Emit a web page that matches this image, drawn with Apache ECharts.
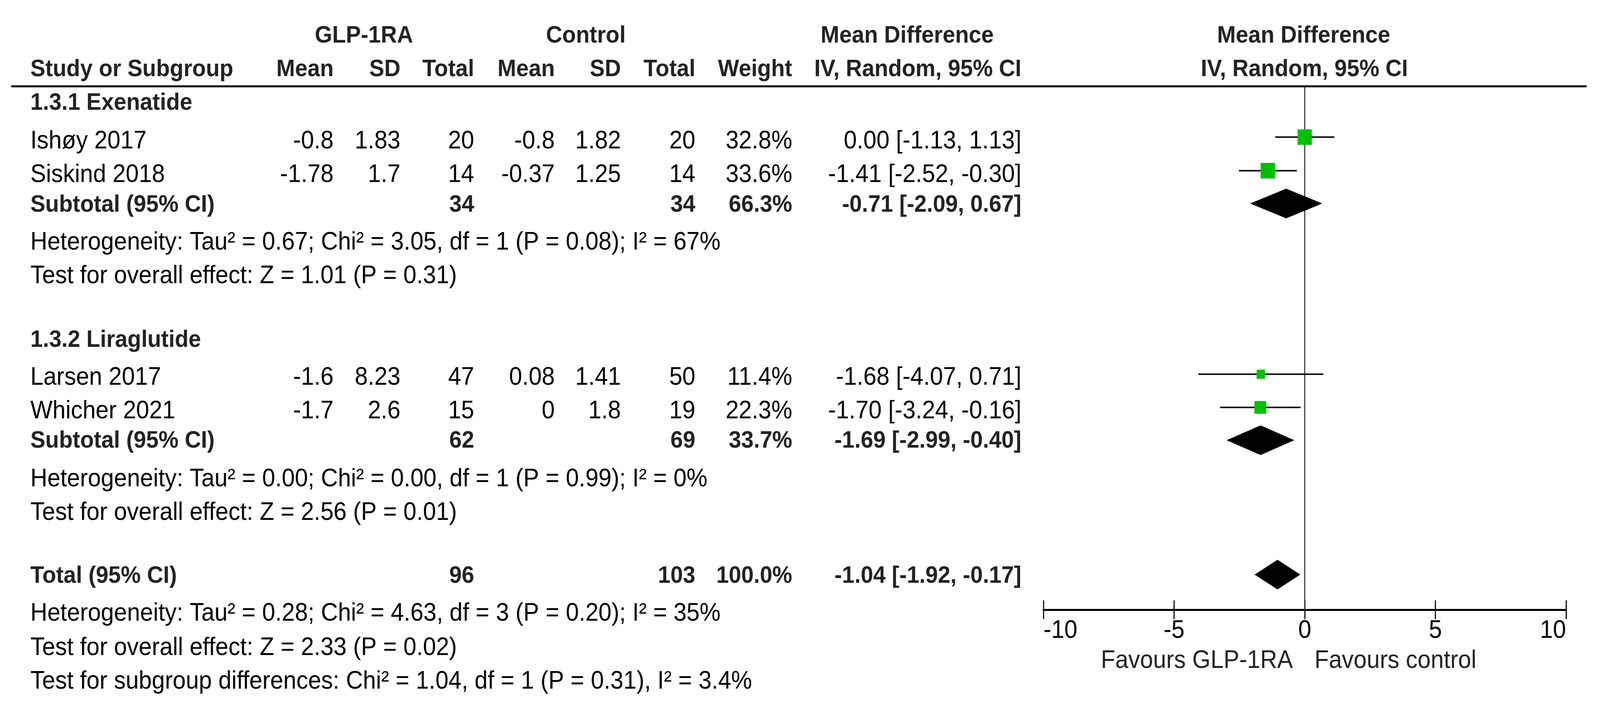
<!DOCTYPE html>
<html><head><meta charset="utf-8">
<script src="https://cdn.jsdelivr.net/npm/echarts@6.0.0/dist/echarts.min.js"></script>
<style>html,body{margin:0;padding:0;background:#fff;overflow:hidden}#c{width:4427px;height:1810px;transform-origin:0 0;position:absolute;left:0;top:0}</style>
</head><body><div id="c"></div>
<script>
// ---------- data ----------
const studies   = ['Ishøy 2017', 'Siskind 2018', 'Larsen 2017', 'Whicher 2021'];
const glpMean   = [-0.8, -1.78, -1.6, -1.7];
const glpSD     = [1.83, 1.7, 8.23, 2.6];
const glpN      = [20, 14, 47, 15];
const ctlMean   = [-0.8, -0.37, 0.08, 0];
const ctlSD     = [1.82, 1.25, 1.41, 1.8];
const ctlN      = [20, 14, 50, 19];
const weights   = [32.8, 33.6, 11.4, 22.3];
const md        = [0.00, -1.41, -1.68, -1.70];
const mdLo      = [-1.13, -2.52, -4.07, -3.24];
const mdHi      = [1.13, -0.30, 0.71, -0.16];

const subgroupNames = ['1.3.1 Exenatide', '1.3.2 Liraglutide'];
const subGlpN   = [34, 62];
const subCtlN   = [34, 69];
const subWeight = [66.3, 33.7];
const subMd     = [-0.71, -1.69];
const subLo     = [-2.09, -2.99];
const subHi     = [0.67, -0.40];
const subHet    = ['Heterogeneity: Tau² = 0.67; Chi² = 3.05, df = 1 (P = 0.08); I² = 67%',
                   'Heterogeneity: Tau² = 0.00; Chi² = 0.00, df = 1 (P = 0.99); I² = 0%'];
const subEffect = ['Test for overall effect: Z = 1.01 (P = 0.31)',
                   'Test for overall effect: Z = 2.56 (P = 0.01)'];

const totalGlpN = 96, totalCtlN = 103, totalWeight = 100.0;
const totalMd = -1.04, totalLo = -1.92, totalHi = -0.17;
const totalHet = 'Heterogeneity: Tau² = 0.28; Chi² = 4.63, df = 3 (P = 0.20); I² = 35%';
const totalEffect = 'Test for overall effect: Z = 2.33 (P = 0.02)';
const subgroupDiff = 'Test for subgroup differences: Chi² = 1.04, df = 1 (P = 0.31), I² = 3.4%';

const xTicks = [-10, -5, 0, 5, 10];
const favourLeft = 'Favours GLP-1RA', favourRight = 'Favours control';

// ---------- layout (design space 4427 x 1810, fitted to the viewport) ----------
const W = 4427, H = 1810;
const el = document.getElementById('c');
const sx = (window.innerWidth || W) / W, sy = (window.innerHeight || H) / H;
el.style.transform = 'scale(' + sx + ',' + sy + ')';

const FONT = '"Liberation Sans", Arial, sans-serif';
const FS_B = 62, FS_R = 65;
const RULE_Y = 221, AXIS_Y = 1561;
const COL = {name: 84, gMean: 923, gSD: 1108, gN: 1312, cMean: 1535, cSD: 1718, cN: 1924, w: 2192, ci: 2826};
const studyTextY = [362, 448, 967, 1053];
const studyMarkY = [351, 437, 958, 1043];
const subHeadY = [264, 871];
const subTotY = [525, 1129];
const subDiaY = [521, 1127];
const subHetY = [621, 1227];
const subEffY = [707, 1313];
const totY = 1475, totDiaY = 1471;

const fmt2 = v => v.toFixed(2);
const ciStr = (m, l, h) => fmt2(m) + ' [' + fmt2(l) + ', ' + fmt2(h) + ']';

const g = [];
function txt(x, y, s, align, bold, color) {
  g.push({type: 'text', x: x, y: y, z: 10, style: {
    text: String(s), align: align || 'left', verticalAlign: 'middle',
    font: (bold ? 'bold ' + FS_B : FS_R) + 'px ' + FONT, fill: color || (bold ? '#222' : '#000')}});
}
// headers
txt(1007, 92, 'GLP-1RA', 'center', true);
txt(1621, 92, 'Control', 'center', true);
txt(2510, 92, 'Mean Difference', 'center', true);
txt(3607, 92, 'Mean Difference', 'center', true);
txt(COL.name, 178, 'Study or Subgroup', 'left', true);
txt(COL.gMean, 178, 'Mean', 'right', true);
txt(COL.gSD, 178, 'SD', 'right', true);
txt(COL.gN, 178, 'Total', 'right', true);
txt(COL.cMean, 178, 'Mean', 'right', true);
txt(COL.cSD, 178, 'SD', 'right', true);
txt(COL.cN, 178, 'Total', 'right', true);
txt(COL.w, 178, 'Weight', 'right', true);
txt(COL.ci, 178, 'IV, Random, 95% CI', 'right', true);
txt(3609, 178, 'IV, Random, 95% CI', 'center', true);
g.push({type: 'line', z: 10, shape: {x1: 31, y1: RULE_Y, x2: 4390, y2: RULE_Y}, style: {stroke: '#000', lineWidth: 5}});

// subgroup blocks
for (let k = 0; k < subgroupNames.length; k++) {
  txt(COL.name, subHeadY[k], subgroupNames[k], 'left', true);
  txt(COL.name, subTotY[k], 'Subtotal (95% CI)', 'left', true);
  txt(COL.gN, subTotY[k], subGlpN[k], 'right', true);
  txt(COL.cN, subTotY[k], subCtlN[k], 'right', true);
  txt(COL.w, subTotY[k], subWeight[k].toFixed(1) + '%', 'right', true);
  txt(COL.ci, subTotY[k], ciStr(subMd[k], subLo[k], subHi[k]), 'right', true);
  txt(COL.name, subHetY[k], subHet[k], 'left', false);
  txt(COL.name, subEffY[k], subEffect[k], 'left', false);
}
// studies
for (let i = 0; i < studies.length; i++) {
  const y = studyTextY[i];
  txt(COL.name, y, studies[i], 'left', false);
  txt(COL.gMean, y, glpMean[i], 'right', false);
  txt(COL.gSD, y, glpSD[i], 'right', false);
  txt(COL.gN, y, glpN[i], 'right', false);
  txt(COL.cMean, y, ctlMean[i], 'right', false);
  txt(COL.cSD, y, ctlSD[i], 'right', false);
  txt(COL.cN, y, ctlN[i], 'right', false);
  txt(COL.w, y, weights[i].toFixed(1) + '%', 'right', false);
  txt(COL.ci, y, ciStr(md[i], mdLo[i], mdHi[i]), 'right', false);
}
// total
txt(COL.name, totY, 'Total (95% CI)', 'left', true);
txt(COL.gN, totY, totalGlpN, 'right', true);
txt(COL.cN, totY, totalCtlN, 'right', true);
txt(COL.w, totY, totalWeight.toFixed(1) + '%', 'right', true);
txt(COL.ci, totY, ciStr(totalMd, totalLo, totalHi), 'right', true);
txt(COL.name, 1571, totalHet, 'left', false);
txt(COL.name, 1659, totalEffect, 'left', false);
txt(COL.name, 1745, subgroupDiff, 'left', false);
// favours
txt(3577, 1692, favourLeft, 'right', false, '#222');
txt(3637, 1692, favourRight, 'left', false, '#222');

// ---------- series data ----------
const studyData = studies.map((s, i) => [md[i], mdLo[i], mdHi[i], studyMarkY[i], weights[i]]);
const diaData = subMd.map((m, k) => [m, subLo[k], subHi[k], subDiaY[k]]).concat([[totalMd, totalLo, totalHi, totDiaY]]);

const dpr = (window.devicePixelRatio || 1) * Math.max(sx, sy);
const chart = echarts.init(el, null, {renderer: 'canvas', width: W, height: H, devicePixelRatio: dpr});
chart.setOption({
  animation: false,
  backgroundColor: '#fff',
  grid: {left: 2887, right: W - 4333, top: RULE_Y, bottom: H - AXIS_Y, containLabel: false},
  xAxis: [{
    type: 'value', min: xTicks[0], max: xTicks[xTicks.length - 1], interval: xTicks[1] - xTicks[0], position: 'bottom',
    axisLine: {show: true, onZero: false, lineStyle: {color: '#000', width: 5}},
    axisTick: {show: true, inside: false, length: 24, lineStyle: {color: '#000', width: 3}},
    axisLabel: {show: true, margin: 22, color: '#000', fontSize: FS_R, fontFamily: FONT,
                alignMinLabel: 'left', alignMaxLabel: 'right'},
    splitLine: {show: false}
  }, {
    type: 'value', min: xTicks[0], max: xTicks[xTicks.length - 1], interval: xTicks[1] - xTicks[0], position: 'bottom',
    axisLine: {show: false, onZero: false},
    axisTick: {show: true, inside: true, length: 24, lineStyle: {color: '#000', width: 3}},
    axisLabel: {show: false}, splitLine: {show: false}
  }],
  yAxis: {type: 'value', min: RULE_Y, max: AXIS_Y, inverse: true, show: false},
  graphic: g,
  series: [{
    type: 'line', data: [[0, RULE_Y], [0, AXIS_Y]], symbol: 'none', z: 1,
    lineStyle: {color: '#333', width: 3}, silent: true
  }, {
    type: 'custom', z: 3, data: studyData,
    renderItem(params, api) {
      const y = api.value(3);
      const m = api.coord([api.value(0), y]);
      const l = api.coord([api.value(1), y]);
      const h = api.coord([api.value(2), y]);
      const s = 6.9 * Math.sqrt(api.value(4));
      return {type: 'group', children: [
        {type: 'line', shape: {x1: l[0], y1: l[1], x2: h[0], y2: h[1]}, style: {stroke: '#111', lineWidth: 4}},
        {type: 'rect', shape: {x: m[0] - s / 2, y: m[1] - s / 2, width: s, height: s}, style: {fill: '#00c000'}}
      ]};
    }
  }, {
    type: 'custom', z: 3, data: diaData,
    renderItem(params, api) {
      const y = api.value(3);
      const m = api.coord([api.value(0), y]);
      const l = api.coord([api.value(1), y]);
      const h = api.coord([api.value(2), y]);
      const hh = 38;
      return {type: 'polygon', shape: {points: [[l[0], l[1]], [m[0], m[1] - hh], [h[0], h[1]], [m[0], m[1] + hh]]},
              style: {fill: '#000'}};
    }
  }]
});
</script>
</body></html>
